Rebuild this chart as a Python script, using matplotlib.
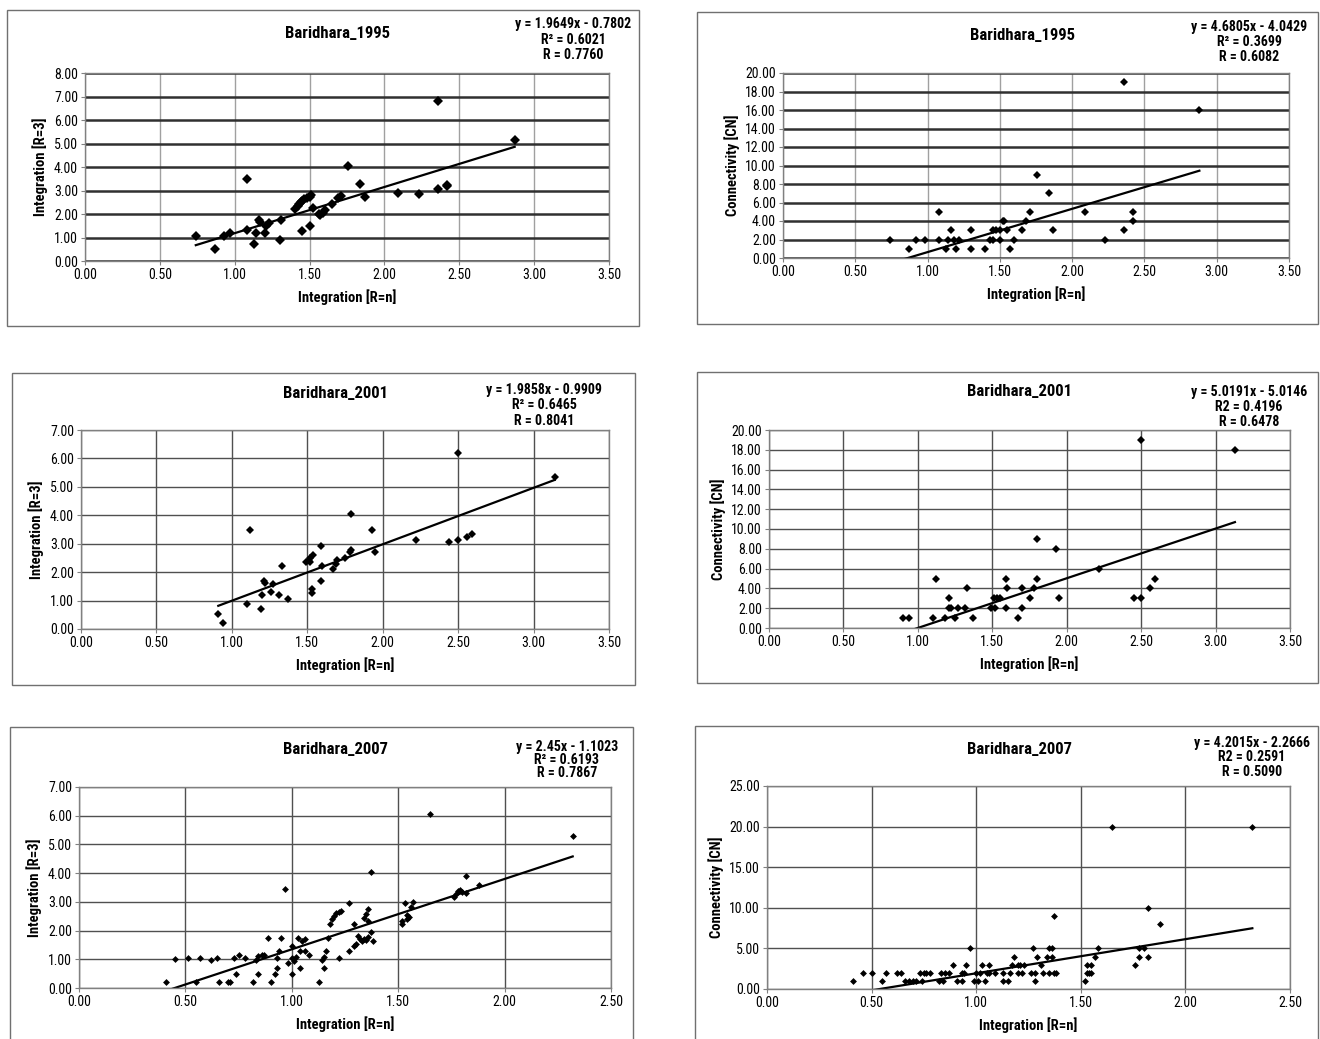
import matplotlib
matplotlib.use('Agg')
import numpy as np
import matplotlib.pyplot as plt
from matplotlib import font_manager
from matplotlib.patches import Rectangle
from matplotlib.ticker import FormatStrFormatter, MultipleLocator

# ---- data ----
x95_r3 = [0.74, 0.87, 0.93, 0.97, 1.08, 1.08, 1.13, 1.14, 1.16, 1.17, 1.20,
          1.21, 1.23, 1.30, 1.31, 1.40, 1.42, 1.43, 1.44, 1.45, 1.46, 1.48,
          1.50, 1.51, 1.45, 1.50, 1.52, 1.56, 1.57, 1.59, 1.60, 1.65, 1.69,
          1.71, 1.76, 1.84, 1.87, 2.09, 2.23, 2.36, 2.36, 2.42, 2.42, 2.87]
y95_r3 = [1.06, 0.50, 1.05, 1.18, 1.30, 3.48, 0.72, 1.18, 1.74, 1.67, 1.18,
          1.49, 1.60, 0.90, 1.76, 2.20, 2.32, 2.42, 2.50, 2.56, 2.62, 2.66,
          2.72, 2.80, 1.28, 1.50, 2.24, 1.98, 1.95, 2.05, 2.15, 2.43, 2.66,
          2.76, 4.06, 3.28, 2.72, 2.88, 2.86, 3.07, 6.79, 3.25, 3.18, 5.13]

x95_cn = [0.74, 0.87, 0.92, 0.98, 1.08, 1.08, 1.13, 1.14, 1.16, 1.18, 1.20,
          1.22, 1.30, 1.30, 1.40, 1.43, 1.45, 1.45, 1.47, 1.50, 1.50, 1.52,
          1.53, 1.55, 1.57, 1.60, 1.65, 1.68, 1.71, 1.76, 1.84, 1.87, 2.09,
          2.23, 2.36, 2.36, 2.42, 2.42, 2.88]
y95_cn = [2, 1, 2, 2, 5, 2, 1, 2, 3, 2, 1,
          2, 3, 1, 1, 2, 3, 2, 3, 3, 2, 4,
          4, 3, 1, 2, 3, 4, 5, 9, 7, 3, 5,
          2, 19, 3, 4, 5, 16]

x01_r3 = [0.91, 0.94, 1.10, 1.12, 1.19, 1.20, 1.21, 1.22, 1.26, 1.27, 1.31,
          1.33, 1.37, 1.49, 1.51, 1.52, 1.52, 1.53, 1.53, 1.54, 1.59, 1.59,
          1.60, 1.67, 1.69, 1.70, 1.75, 1.78, 1.79, 1.79, 1.93, 1.95, 2.22,
          2.44, 2.50, 2.50, 2.56, 2.59, 3.14]
y01_r3 = [0.52, 0.22, 0.89, 3.47, 0.72, 1.18, 1.69, 1.63, 1.29, 1.60, 1.18,
          2.22, 1.04, 2.34, 2.42, 2.51, 2.37, 1.28, 1.40, 2.62, 2.92, 1.68,
          2.22, 2.10, 2.28, 2.42, 2.51, 2.70, 2.78, 4.05, 3.48, 2.72, 3.13,
          3.07, 3.12, 6.20, 3.25, 3.34, 5.36]

x01_cn = [0.90, 0.94, 1.10, 1.12, 1.18, 1.21, 1.21, 1.22, 1.25, 1.27, 1.32,
          1.33, 1.37, 1.49, 1.51, 1.52, 1.53, 1.55, 1.59, 1.59, 1.60, 1.67,
          1.70, 1.70, 1.75, 1.78, 1.80, 1.80, 1.93, 1.95, 2.22, 2.45, 2.50,
          2.50, 2.56, 2.59, 3.13]
y01_cn = [1, 1, 1, 5, 1, 2, 3, 2, 1, 2, 2,
          4, 1, 2, 3, 2, 3, 3, 5, 2, 4, 1,
          2, 4, 3, 4, 9, 5, 8, 3, 6, 3, 3,
          19, 4, 5, 18]

x07_r3 = [0.41, 0.45, 0.51, 0.55, 0.57, 0.62, 0.65, 0.66, 0.70, 0.71,
          0.73, 0.74, 0.75, 0.78, 0.82, 0.83, 0.84, 0.84, 0.86, 0.87,
          0.89, 0.90, 0.92, 0.93, 0.93, 0.94, 0.95, 0.97, 0.98, 1.00,
          1.00, 1.00, 1.01, 1.02, 1.03, 1.04, 1.04, 1.05, 1.06, 1.06,
          1.08, 1.13, 1.14, 1.15, 1.15, 1.16, 1.17, 1.18, 1.19, 1.20,
          1.21, 1.22, 1.23, 1.22, 1.27, 1.27, 1.29, 1.29, 1.30, 1.31,
          1.32, 1.33, 1.34, 1.35, 1.36, 1.34, 1.35, 1.36, 1.36, 1.37,
          1.37, 1.38, 1.52, 1.52, 1.53, 1.54, 1.54, 1.55, 1.56, 1.57,
          1.65, 1.76, 1.77, 1.78, 1.79, 1.80, 1.82, 1.82, 1.88, 2.32]
y07_r3 = [0.20, 1.00, 1.03, 0.20, 1.03, 0.99, 1.03, 0.20, 0.20, 0.20,
          1.03, 0.49, 1.16, 1.03, 0.20, 0.99, 0.49, 1.13, 1.16, 1.16,
          1.74, 0.20, 0.49, 0.70, 1.03, 1.28, 1.74, 3.45, 0.86, 1.03,
          1.48, 0.49, 0.95, 1.07, 1.74, 0.70, 1.30, 1.65, 1.71, 1.30,
          1.16, 0.20, 0.99, 1.07, 0.70, 1.28, 1.74, 2.23, 2.40, 2.52,
          2.60, 2.64, 2.68, 1.03, 1.28, 2.97, 1.48, 2.23, 1.53, 1.80,
          1.72, 1.62, 1.72, 1.68, 1.76, 2.45, 2.58, 2.75, 2.35, 1.94,
          4.03, 1.65, 2.22, 2.33, 2.96, 2.41, 2.53, 2.47, 2.82, 2.98,
          6.07, 3.16, 3.28, 3.39, 3.42, 3.34, 3.30, 3.89, 3.60, 5.28]

x07_cn = [0.41, 0.46, 0.50, 0.55, 0.57, 0.62, 0.64, 0.66, 0.68, 0.70,
          0.71, 0.73, 0.74, 0.75, 0.76, 0.78, 0.82, 0.83, 0.84, 0.85,
          0.87, 0.89, 0.91, 0.93, 0.93, 0.94, 0.95, 0.97, 0.99, 1.00,
          1.01, 1.02, 1.03, 1.04, 1.05, 1.06, 1.06, 1.09, 1.13, 1.13,
          1.15, 1.16, 1.17, 1.18, 1.20, 1.20, 1.21, 1.22, 1.23, 1.26,
          1.27, 1.28, 1.28, 1.29, 1.31, 1.32, 1.34, 1.35, 1.35, 1.36,
          1.36, 1.37, 1.37, 1.38, 1.52, 1.53, 1.53, 1.54, 1.55, 1.55,
          1.57, 1.58, 1.65, 1.76, 1.78, 1.78, 1.80, 1.82, 1.82, 1.88,
          2.32]
y07_cn = [1, 2, 2, 1, 2, 2, 2, 1, 1, 1,
          1, 2, 1, 2, 2, 2, 1, 2, 1, 2,
          2, 3, 1, 2, 1, 2, 3, 5, 1, 2,
          1, 2, 3, 1, 2, 3, 2, 2, 1, 2,
          1, 2, 3, 4, 3, 2, 3, 2, 3, 2,
          5, 2, 1, 4, 3, 2, 4, 5, 2, 5,
          4, 2, 9, 2, 1, 2, 3, 2, 3, 2,
          4, 5, 20, 3, 4, 5, 5, 4, 10, 8,
          20]

# trend lines as printed on the panels (slope, intercept)
fit95_r3 = (1.9649, -0.7802)
fit95_cn = (4.6805, -4.0429)
fit01_r3 = (1.9858, -0.9909)
fit01_cn = (5.0191, -5.0146)
fit07_r3 = (2.45, -1.1023)
fit07_cn = (4.2015, -2.2666)

eq95_r3 = ["y = 1.9649x - 0.7802", "R\u00b2 = 0.6021", "R = 0.7760"]
eq95_cn = ["y = 4.6805x - 4.0429", "R\u00b2 = 0.3699", "R = 0.6082"]
eq01_r3 = ["y = 1.9858x - 0.9909", "R\u00b2 = 0.6465", "R = 0.8041"]
eq01_cn = ["y = 5.0191x - 5.0146", "R2 = 0.4196", "R = 0.6478"]
eq07_r3 = ["y = 2.45x - 1.1023", "R\u00b2 = 0.6193", "R = 0.7867"]
eq07_cn = ["y = 4.2015x - 2.2666", "R2 = 0.2591", "R = 0.5090"]


def pick_font(names):
    for n in names:
        try:
            font_manager.findfont(font_manager.FontProperties(family=n),
                                  fallback_to_default=False)
            return n
        except ValueError:
            pass
    return 'DejaVu Sans'


FONT = pick_font(['Liberation Sans Narrow', 'Arial Narrow', 'Roboto Condensed',
                  'Liberation Sans'])
plt.rcParams['font.family'] = [FONT, 'DejaVu Sans']

W, H = 1320, 1039
fig = plt.figure(figsize=(W / 100, H / 100), dpi=100)


def fx(px):
    return px / W


def fy(py):
    return 1 - py / H


def draw_panel(box, plot, x, y, fit, title, title_xy, eq, eq_x, eq_ys,
               ylabel, xmax, ymax, ystep, heavy, ms):
    l, t, r, b = box
    fig.add_artist(Rectangle((fx(l), fy(b)), (r - l) / W, (b - t) / H,
                             transform=fig.transFigure, fill=False,
                             ec='#707070', lw=1.0))
    pl, pt, pr, pb = plot
    ax = fig.add_axes([fx(pl), fy(pb), (pr - pl) / W, (pb - pt) / H])
    ax.set_xlim(0, xmax)
    ax.set_ylim(0, ymax)
    ax.xaxis.set_major_locator(MultipleLocator(0.5))
    ax.yaxis.set_major_locator(MultipleLocator(ystep))
    ax.xaxis.set_major_formatter(FormatStrFormatter('%.2f'))
    ax.yaxis.set_major_formatter(FormatStrFormatter('%.2f'))
    ax.set_axisbelow(True)
    if heavy:
        ax.yaxis.grid(True, color='#303030', lw=1.8)
        ax.xaxis.grid(True, color='#a0a0a0', lw=1.0)
    else:
        ax.yaxis.grid(True, color='#505050', lw=1.0)
        ax.xaxis.grid(True, color='#505050', lw=1.0)
    for s in ax.spines.values():
        s.set_color('#808080')
        s.set_linewidth(1.0)
    ax.tick_params(length=3, width=0.8, color='#808080', labelsize=10, pad=2)

    ax.plot(x, y, 'D', color='black', ms=ms, mew=0)
    xs = np.array([min(x), max(x)])
    ax.plot(xs, fit[0] * xs + fit[1], color='black', lw=1.6)

    ax.set_xlabel("Integration [R=n]", fontsize=10.5, fontweight='bold',
                  labelpad=5)
    ax.set_ylabel(ylabel, fontsize=10.5, fontweight='bold', labelpad=4)

    fig.text(fx(title_xy[0]), fy(title_xy[1]), title, ha='center', va='center',
             fontsize=12, fontweight='bold')
    for line, ey in zip(eq, eq_ys):
        fig.text(fx(eq_x), fy(ey), line, ha='center', va='center',
                 fontsize=10, fontweight='bold')
    return ax


draw_panel((7, 10, 639, 326), (85, 73, 609, 261), x95_r3, y95_r3, fit95_r3,
           "Baridhara_1995", (337, 33), eq95_r3, 573, (24, 40, 55),
           "Integration [R=3]", 3.5, 8, 1, True, 4.6)
draw_panel((697, 12, 1318, 324), (783, 73, 1289, 258), x95_cn, y95_cn, fit95_cn,
           "Baridhara_1995", (1022, 36), eq95_cn, 1249, (27, 42, 57),
           "Connectivity [CN]", 3.5, 20, 2, True, 4.3)
draw_panel((12, 373, 635, 685), (81, 430, 609, 629), x01_r3, y01_r3, fit01_r3,
           "Baridhara_2001", (335, 393), eq01_r3, 544, (390, 405, 421),
           "Integration [R=3]", 3.5, 7, 1, False, 3.6)
draw_panel((697, 372, 1318, 683), (769, 430, 1290, 628), x01_cn, y01_cn, fit01_cn,
           "Baridhara_2001", (1019, 392), eq01_cn, 1249, (392, 407, 422),
           "Connectivity [CN]", 3.5, 20, 2, False, 3.6)
draw_panel((10, 727, 633, 1060), (79, 787, 611, 988), x07_r3, y07_r3, fit07_r3,
           "Baridhara_2007", (336, 749), eq07_r3, 567, (747, 760, 773),
           "Integration [R=3]", 2.5, 7, 1, False, 3.5)
draw_panel((695, 726, 1318, 1060), (767, 786, 1290, 989), x07_cn, y07_cn, fit07_cn,
           "Baridhara_2007", (1019, 749), eq07_cn, 1252, (743, 757, 772),
           "Connectivity [CN]", 2.5, 25, 5, False, 3.5)

fig.savefig("out.png", dpi=100)
